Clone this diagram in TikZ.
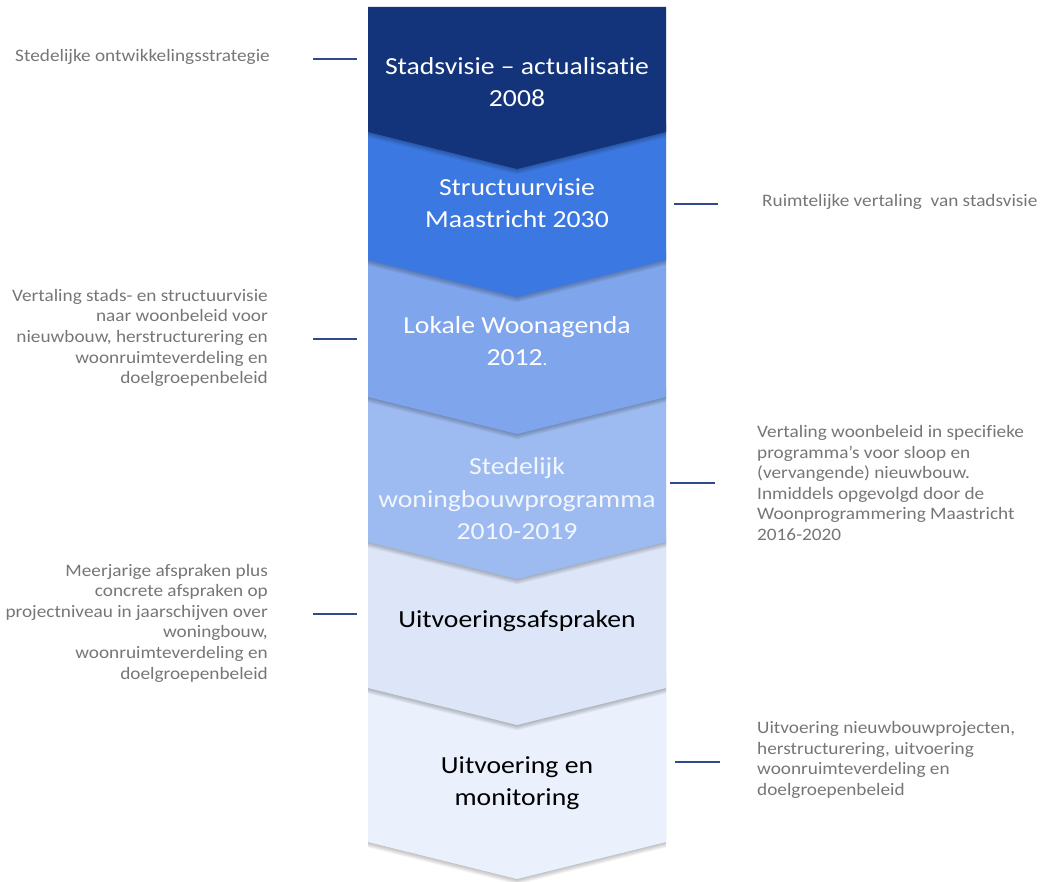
\documentclass[tikz,border=0pt]{standalone}
\usepackage{fontspec}
\setmainfont{Carlito}[Ligatures=NoCommon]
\newfontfamily\stepfont{Carlito}[Ligatures=NoCommon,FakeStretch=1.13]
\newfontfamily\notefont{Carlito}[Ligatures=NoCommon,FakeStretch=1.10]
\begin{document}
\definecolor{cA}{HTML}{13337A}
\definecolor{cB}{HTML}{3C78E1}
\definecolor{cC}{HTML}{7FA5EC}
\definecolor{cD}{HTML}{9DBBF1}
\definecolor{cE}{HTML}{DCE6F8}
\definecolor{cF}{HTML}{EAF0FC}
\definecolor{notegray}{HTML}{767676}
\definecolor{tick}{HTML}{2E4A8C}
\definecolor{softwhite}{HTML}{F2F6FD}
% chevron: #1 top, #2 side bottom, #3 fill
\newcommand{\chevpath}[2]{(368,#1) -- (666,#1) -- (666,#2) -- (517,#2+37) -- (368,#2) -- cycle}
\newcommand{\chevron}[3]{%
  \foreach \s in {1,2,...,6}{\fill[black,opacity=0.045,yshift=-\s*0.9pt] \chevpath{#1}{#2};}
  \fill[#3] \chevpath{#1}{#2};}
\begin{tikzpicture}[x=1pt,y=-1pt,
  steptext/.style={align=center,font=\stepfont\fontsize{24.5}{32.5}\selectfont,inner sep=0pt},
  note/.style={text=notegray,font=\notefont\fontsize{17.5}{20.6}\selectfont,inner sep=0pt},
  noteL/.style={note,align=right,anchor=east},
  noteR/.style={note,align=left,anchor=west},
  tickline/.style={draw=tick,line width=1.4pt}]
\useasboundingbox (0,0) rectangle (1043,882);
% stacked chevrons, lowest first so each upper one overlaps the next
\chevron{678}{842}{cF}
\chevron{532}{688}{cE}
\chevron{387}{542}{cD}
\chevron{250}{397}{cC}
\chevron{122}{260}{cB}
\chevron{7}{132}{cA}
% step labels
\node[steptext,text=white] (s1) at (517,82) {Stadsvisie – actualisatie\\2008};
\node[steptext,text=white] (s2) at (517,203) {Structuurvisie\\Maastricht 2030};
\node[steptext,text=white] (s3) at (517,341) {Lokale Woonagenda\\2012{\fontsize{17}{20}\selectfont.}};
\node[steptext,text=softwhite] (s4) at (517,499) {Stedelijk\\woningbouwprogramma\\2010-2019};
\node[steptext,text=black] (s5) at (517,621) {Uitvoeringsafspraken};
\node[steptext,text=black] (s6) at (517,783) {Uitvoering en\\monitoring};
% side notes
\node[noteL] (n1) at (270,57) {Stedelijke ontwikkelingsstrategie};
\node[noteR] (n2) at (762,202) {Ruimtelijke vertaling\ \ van stadsvisie};
\node[noteL] (n3) at (268,338) {Vertaling stads- en structuurvisie\\naar woonbeleid voor\\nieuwbouw, herstructurering en\\woonruimteverdeling en\\doelgroepenbeleid};
\node[noteR] (n4) at (757,483) {Vertaling woonbeleid in specifieke\\programma’s voor sloop en\\(vervangende) nieuwbouw.\\Inmiddels opgevolgd door de\\Woonprogrammering Maastricht\\2016-2020};
\node[noteL] (n5) at (268,623) {Meerjarige afspraken plus\\concrete afspraken op\\projectniveau in jaarschijven over\\woningbouw,\\woonruimteverdeling en\\doelgroepenbeleid};
\node[noteR] (n6) at (757,760) {Uitvoering nieuwbouwprojecten,\\herstructurering, uitvoering\\woonruimteverdeling en\\doelgroepenbeleid};
% tick marks between notes and steps
\coordinate (t1a) at (313,59);  \coordinate (t1b) at (357,59);
\coordinate (t2a) at (674,204); \coordinate (t2b) at (718,204);
\coordinate (t3a) at (313,339); \coordinate (t3b) at (357,339);
\coordinate (t4a) at (670,483); \coordinate (t4b) at (715,483);
\coordinate (t5a) at (313,614); \coordinate (t5b) at (357,614);
\coordinate (t6a) at (675,762); \coordinate (t6b) at (720,762);
\foreach \k in {1,...,6}{\draw[tickline] (t\k a) -- (t\k b);}
\end{tikzpicture}
\end{document}
